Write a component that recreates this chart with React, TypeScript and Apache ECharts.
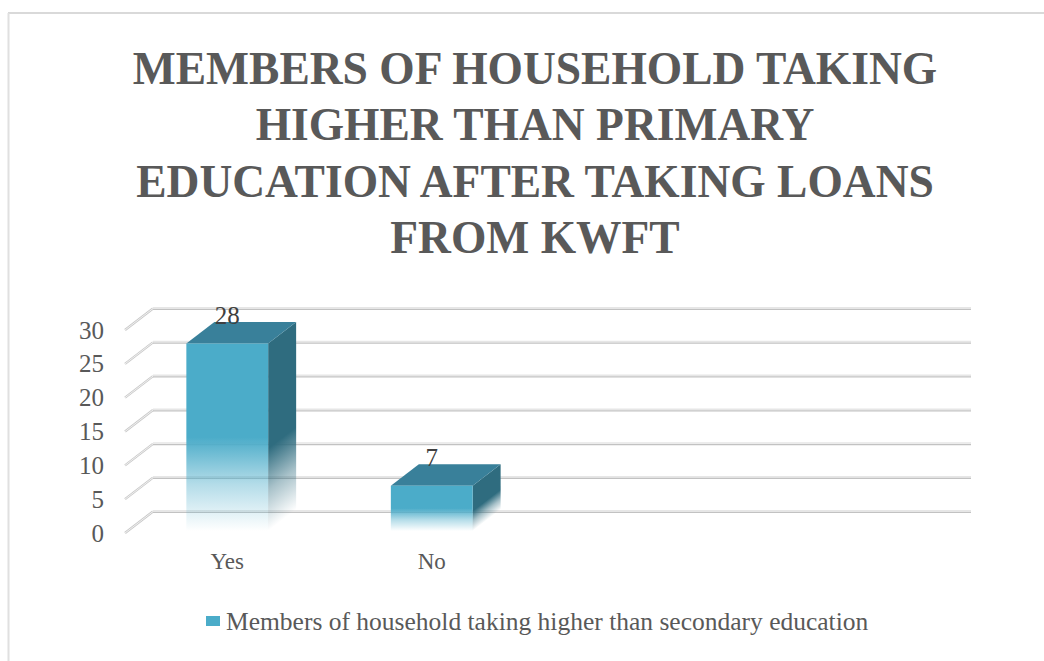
import React, { useEffect, useRef } from "react";
import * as echarts from "echarts";

const titleLines = [
  "MEMBERS OF HOUSEHOLD TAKING",
  "HIGHER THAN PRIMARY",
  "EDUCATION AFTER TAKING LOANS",
  "FROM KWFT",
];
const categories = ["Yes", "No", "", ""];
const seriesName = "Members of household taking higher than secondary education";
const seriesValues = [28, 7];
const valueTicks = [0, 5, 10, 15, 20, 25, 30];

const FONT = "'Liberation Serif'";
const TEXT = "#595959";
const FRONT = "#4bacc9";
const TOP = "#39809a";
const DEPTH_X = 28;
const DEPTH_Y = 21.5;

const fade = (rgb: string, start: number, x: number, y: number, x2: number, y2: number, global: boolean) =>
  new echarts.graphic.LinearGradient(
    x,
    y,
    x2,
    y2,
    [
      { offset: 0, color: `rgba(${rgb},1)` },
      { offset: start, color: `rgba(${rgb},1)` },
      { offset: start + (1 - start) / 2, color: `rgba(${rgb},0.42)` },
      { offset: 1, color: `rgba(${rgb},0)` },
    ],
    global,
  );

// One wall line per tick: the slanted side-wall stroke, then the back-wall stroke.
const renderWallLine = (_p: any, api: any) => {
  const [x0, y] = api.coord([0, api.value(0)]);
  const left = x0 - api.size([1, 0])[0] / 2;
  const right = left + api.size([1, 0])[0] * 4 + DEPTH_X;
  const bx = left + DEPTH_X;
  const by = y - DEPTH_Y;
  return {
    type: "group",
    children: [
      { type: "line", shape: { x1: left, y1: y, x2: bx, y2: by }, style: { stroke: "#c9c9c9", lineWidth: 2.4 } },
      { type: "line", shape: { x1: left, y1: y, x2: bx, y2: by }, style: { stroke: "#f4f4f4", lineWidth: 0.9 } },
      { type: "line", shape: { x1: bx, y1: by - 0.8, x2: right, y2: by - 0.8 }, style: { stroke: "#e6e6e6", lineWidth: 1.6 } },
      { type: "line", shape: { x1: bx, y1: by + 0.8, x2: right, y2: by + 0.8 }, style: { stroke: "#c2c2c2", lineWidth: 1.2 } },
    ],
  };
};

// A box with a front, a side and a top face, fading out towards the floor.
const renderBox = (_p: any, api: any) => {
  const [cx, yTop] = api.coord([api.value(0), api.value(1)]);
  const [, yBase] = api.coord([api.value(0), 0]);
  const w = api.size([1, 0])[0] * 0.4;
  const x1 = cx - w / 2;
  const x2 = cx + w / 2;
  const dx = DEPTH_X;
  const dy = DEPTH_Y;
  const yBottom = yBase - 2;
  const h = yBottom - yTop;
  // The side face fades along the normal of its bottom edge.
  const t = (h * dx) / (dx * dx + dy * dy);
  return {
    type: "group",
    children: [
      {
        type: "polygon",
        shape: { points: [[x2, yTop], [x2 + dx, yTop - dy], [x2 + dx, yBottom - dy], [x2, yBottom]] },
        style: { fill: fade("47,108,127", 0.56, x2, yTop, x2 + t * dy, yTop + t * dx, true) },
      },
      {
        type: "polygon",
        shape: { points: [[x1, yTop], [x1 + dx, yTop - dy], [x2 + dx, yTop - dy], [x2, yTop]] },
        style: { fill: TOP },
      },
      {
        type: "rect",
        shape: { x: x1, y: yTop, width: w, height: h },
        style: { fill: fade("75,172,201", 0.5, 0, 0, 0, 1, false) },
      },
      {
        type: "text",
        x: cx,
        y: yTop - 28,
        style: {
          text: String(api.value(1)),
          fill: "#404040",
          font: `25px ${FONT}`,
          align: "center",
          verticalAlign: "middle",
        },
      },
    ],
  };
};

export default function App() {
  const ref = useRef<HTMLDivElement>(null);
  useEffect(() => {
    document.body.style.margin = "0";
    const chart = echarts.init(ref.current!, undefined, { renderer: "svg" });
    chart.setOption({
      animation: false,
      backgroundColor: "#ffffff",
      title: {
        text: titleLines.join("\n"),
        left: 530,
        top: 35,
        textAlign: "center",
        textStyle: {
          color: TEXT,
          fontFamily: FONT,
          fontWeight: "bold",
          fontSize: 45.5,
          lineHeight: 56.5,
          align: "center",
        },
      },
      graphic: [
        { type: "line", shape: { x1: 8, y1: 13, x2: 1044, y2: 13 }, style: { stroke: "#d9d9d9", lineWidth: 2 } },
        { type: "line", shape: { x1: 8.5, y1: 13, x2: 8.5, y2: 661 }, style: { stroke: "#e0e0e0", lineWidth: 2 } },
      ],
      legend: {
        left: 201,
        top: 603,
        itemWidth: 14,
        itemHeight: 10,
        icon: "rect",
        data: [{ name: seriesName, itemStyle: { color: FRONT } }],
        textStyle: { color: TEXT, fontFamily: FONT, fontSize: 25.5, padding: [8, 0, 0, 1] },
      },
      grid: { left: 125, right: 101, top: 330, bottom: 128 },
      xAxis: {
        type: "category",
        data: categories,
        axisLine: { show: false },
        axisTick: { show: false },
        axisLabel: { color: TEXT, fontFamily: FONT, fontSize: 23, margin: 17, interval: 0 },
      },
      yAxis: {
        type: "value",
        min: 0,
        max: 30,
        interval: 5,
        axisLine: { show: false },
        axisTick: { show: false },
        splitLine: { show: false },
        axisLabel: { color: TEXT, fontFamily: FONT, fontSize: 25, margin: 21 },
      },
      series: [
        {
          type: "custom",
          name: "wall",
          silent: true,
          renderItem: renderWallLine,
          encode: { y: 0 },
          data: valueTicks.map((v) => [v]),
          z: 1,
        },
        {
          type: "custom",
          name: seriesName,
          renderItem: renderBox,
          encode: { x: 0, y: 1 },
          itemStyle: { color: FRONT },
          data: seriesValues.map((v, i) => [i, v]),
          z: 2,
        },
      ],
    });
    return () => chart.dispose();
  }, []);
  return <div ref={ref} style={{ position: "fixed", left: 0, top: 0, width: 1044, height: 661 }} />;
}
